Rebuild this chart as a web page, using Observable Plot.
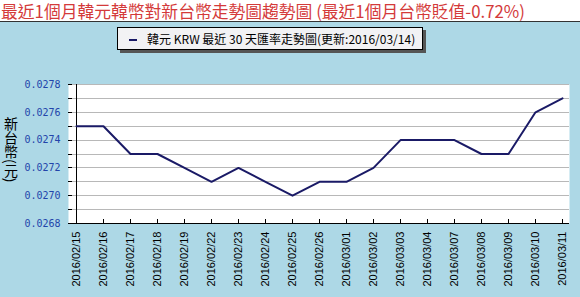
<!DOCTYPE html>
<html><head><meta charset="utf-8">
<script src="https://cdn.jsdelivr.net/npm/d3@7"></script>
<script src="https://cdn.jsdelivr.net/npm/@observablehq/plot@0.6"></script>
<style>
html,body{margin:0;padding:0;}
#wrap{position:relative;width:580px;height:297px;background:#add8e6;}
#title{height:22px;background:#fff;border-bottom:1px solid #333;color:#d43a3a;font:16.8px "Noto Sans CJK TC","Liberation Sans",sans-serif;line-height:22px;white-space:nowrap;padding-left:1px;box-sizing:border-box;}
#legend{position:absolute;left:117px;top:27px;width:304px;height:21px;background:#f2f2f4;border:1px solid #000;box-shadow:3px 3px 0 #555;font:12px "Noto Sans CJK TC",sans-serif;line-height:21px;white-space:nowrap;}
#legend .sw{display:inline-block;width:8px;height:2px;background:#1a1a66;vertical-align:middle;margin:0 10px 0 11px;position:relative;top:-1px;}
#ytitle{position:absolute;left:2px;top:117px;height:76px;width:18px;writing-mode:vertical-rl;text-orientation:mixed;white-space:nowrap;font:14px "Noto Sans CJK TC",sans-serif;line-height:18px;color:#000;}
svg{display:block;}
</style></head>
<body>
<div id="wrap">
<div id="title"></div>
<div id="chart"></div>
<div id="legend"><span class="sw"></span><span id="legtext"></span></div>
<div id="ytitle"></div>
</div>
<script>
const titleText = "最近1個月韓元韓幣對新台幣走勢圖趨勢圖 (最近1個月台幣貶值-0.72%)";
const legendText = "韓元 KRW 最近 30 天匯率走勢圖(更新:2016/03/14)";
const yTitle = "新台幣(元)";
const dates = ["2016/02/15","2016/02/16","2016/02/17","2016/02/18","2016/02/19","2016/02/22","2016/02/23","2016/02/24","2016/02/25","2016/02/26","2016/03/01","2016/03/02","2016/03/03","2016/03/04","2016/03/07","2016/03/08","2016/03/09","2016/03/10","2016/03/11"];
const rates = [0.0275,0.0275,0.0273,0.0273,0.0272,0.0271,0.0272,0.0271,0.0270,0.0271,0.0271,0.0272,0.0274,0.0274,0.0274,0.0273,0.0273,0.0276,0.0277];
const yDomain = [0.0268, 0.0278];
const yMinorTicks = [0.0268,0.0269,0.0270,0.0271,0.0272,0.0273,0.0274,0.0275,0.0276,0.0277,0.0278];
const yLabelTicks = [0.0268,0.0270,0.0272,0.0274,0.0276,0.0278];

document.getElementById("title").textContent = titleText;
document.getElementById("legtext").textContent = legendText;
document.getElementById("ytitle").textContent = yTitle;

const data = dates.map((d, i) => ({date: d, rate: rates[i]}));

const chart = Plot.plot({
  width: 580,
  height: 274,
  marginTop: 62,
  marginBottom: 73,
  marginLeft: 68,
  marginRight: 11,
  style: {background: "transparent", overflow: "visible"},
  x: {type: "point", domain: dates, padding: 0},
  y: {domain: yDomain},
  marks: [
    Plot.frame({fill: "white", stroke: null}),
    Plot.gridY(yMinorTicks, {stroke: "#b8b8b8", strokeOpacity: 1, strokeWidth: 1}),
    Plot.axisY(yMinorTicks, {tickSize: 4, dx: 4, text: null, label: null, stroke: "#000", strokeOpacity: 1}),
    Plot.axisY(yLabelTicks, {tickSize: 0, tickPadding: 8, tickFormat: d => d.toFixed(4), label: null, fill: "#2244aa", fontFamily: "DejaVu Sans Mono", fontSize: 10}),
    Plot.axisX({tickSize: 4, dy: -4, text: null, label: null, stroke: "#000", strokeOpacity: 1}),
    Plot.axisX({tickSize: 0, tickPadding: 8, tickRotate: -90, label: null, fontSize: 11, fontFamily: "Liberation Sans", fill: "#000"}),
    Plot.ruleY([yDomain[0]], {stroke: "#000", strokeWidth: 1}),
    Plot.ruleX([dates[0]], {stroke: "#000", strokeWidth: 1}),
    Plot.line(data, {x: "date", y: "rate", stroke: "#1a1a66", strokeWidth: 2})
  ]
});
document.getElementById("chart").appendChild(chart);
chart.querySelectorAll('g[aria-label="y-grid"], g[aria-label="y-axis tick"], g[aria-label="x-axis tick"], g[aria-label="rule"]').forEach(g => g.setAttribute("shape-rendering", "crispEdges"));
</script>
</body></html>
